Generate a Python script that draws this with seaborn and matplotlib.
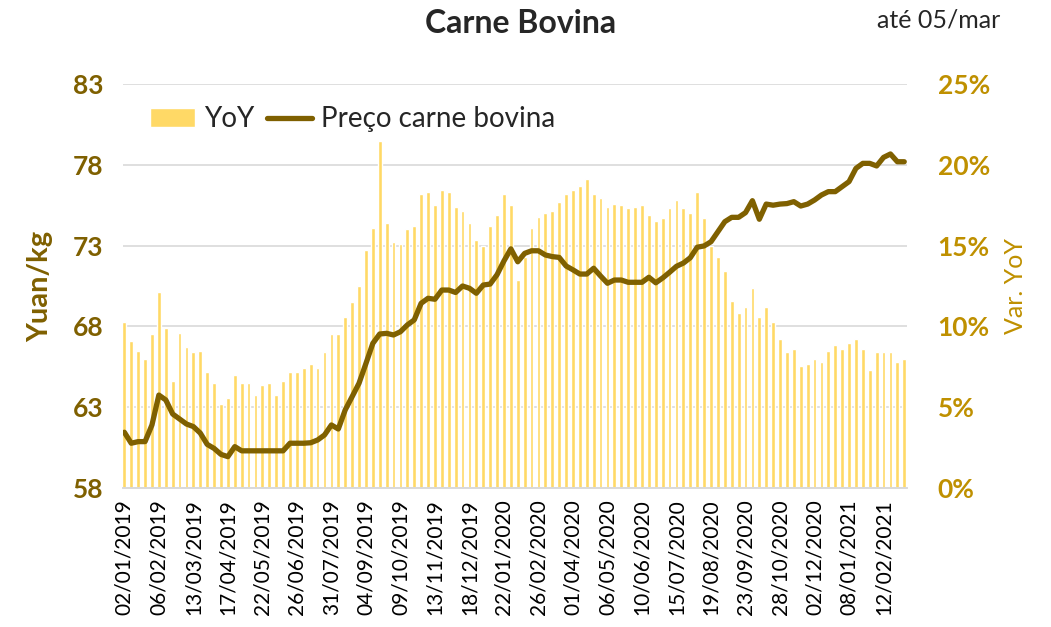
# Carne Bovina - preço semanal e variação YoY
import matplotlib
matplotlib.use("Agg")
import matplotlib.pyplot as plt
import seaborn as sns
import pandas as pd

# dados (semanas de 02/01/2019 até 05/03/2021)
yoy = [10.3, 9.1, 8.5, 8.0, 9.5, 12.1, 9.9, 6.6, 9.6, 8.7, 8.4, 8.5, 7.2, 6.5, 5.2, 5.6, 7.0, 6.5, 6.5,
       5.75, 6.4, 6.5, 5.75, 6.6, 7.2, 7.2, 7.45, 7.65, 7.45, 8.4, 9.55, 9.55, 10.6, 11.5, 12.5, 14.7, 16.1, 21.5,
       16.4, 15.25, 15.1, 16.0, 16.2, 18.2, 18.3, 17.5, 18.45, 18.3, 17.4, 17.15, 16.4, 15.35, 15.0, 16.2, 16.9, 18.2, 17.5, 12.9,
       14.3, 16.07, 16.8, 17.0, 17.15, 17.7, 18.2, 18.45, 18.7, 19.15, 18.2, 17.95, 17.4, 17.6, 17.5, 17.3, 17.4, 17.5, 16.9, 16.55,
       16.7, 17.3, 17.85, 17.3, 17.0, 18.3,
       16.7, 15.0, 14.3, 13.4, 11.6, 10.8, 11.2, 12.4, 10.6, 11.2, 10.3, 9.2, 8.4, 8.6, 7.55, 7.67, 8.0, 7.8, 8.5, 8.85,
       8.6, 9.0, 9.2, 8.6, 7.3, 8.4, 8.4, 8.4, 7.8, 8.0]

preco = [61.45, 60.77, 60.87, 60.87, 61.9, 63.75, 63.45, 62.58, 62.27, 61.96, 61.8, 61.4, 60.7, 60.45, 60.08, 59.94, 60.56, 60.3, 60.3,
         60.3, 60.3, 60.3, 60.3, 60.3, 60.77, 60.77, 60.77, 60.8, 60.97, 61.28, 61.9, 61.65, 62.83, 63.65, 64.48, 65.7, 66.95, 67.53,
         67.57, 67.47, 67.67, 68.09, 68.4, 69.43, 69.74, 69.68, 70.25, 70.25, 70.1, 70.5, 70.36, 70.05, 70.56, 70.62, 71.2, 72.05, 72.8, 72.0,
         72.52, 72.68, 72.68, 72.42, 72.32, 72.27, 71.74, 71.5, 71.24, 71.24, 71.6, 71.12, 70.67, 70.87, 70.87, 70.73, 70.73, 70.73, 71.04, 70.7,
         71.0, 71.35, 71.72, 71.92, 72.25, 72.9,
         72.98, 73.24, 73.86, 74.48, 74.75, 74.75, 75.04, 75.78, 74.63, 75.57, 75.5, 75.57, 75.6, 75.72, 75.45, 75.57, 75.82, 76.13, 76.34, 76.34,
         76.65, 76.96, 77.78, 78.09, 78.09, 77.93, 78.46, 78.67, 78.19, 78.19]

# rótulos do eixo x (a cada 5 semanas)
rotulos_x = ['02/01/2019', '06/02/2019', '13/03/2019', '17/04/2019', '22/05/2019', '26/06/2019',
             '31/07/2019', '04/09/2019', '09/10/2019', '13/11/2019', '18/12/2019', '22/01/2020',
             '26/02/2020', '01/04/2020', '06/05/2020', '10/06/2020', '15/07/2020', '19/08/2020',
             '23/09/2020', '28/10/2020', '02/12/2020', '08/01/2021', '12/02/2021']

df = pd.DataFrame({"semana": range(len(preco)), "preco": preco, "yoy": yoy})

cor_linha = "#7F6000"
cor_barra = "#FFD966"
cor_dir = "#BF9000"
fonte = "Lato"

sns.set_style("white")
plt.rcParams["font.family"] = [fonte, "DejaVu Sans"]

fig = plt.figure(figsize=(10.51, 6.27), dpi=100)
ax = fig.add_axes([0.117, 0.2217, 0.746, 0.6443])
ax2 = ax.twinx()

# barras YoY (eixo da direita)
sns.barplot(data=df, x="semana", y="yoy", ax=ax2, color=cor_barra, saturation=1,
            width=0.55, label="YoY")
ax2.set_ylim(0, 25)
ax2.set_yticks(range(0, 26, 5))
ax2.set_yticklabels([f"{v}%" for v in range(0, 26, 5)], fontsize=19, fontweight="bold", color=cor_dir)
ax2.set_ylabel("Var. YoY", fontsize=18, color=cor_dir, rotation=90, labelpad=10)
ax2.grid(axis="y", color="#d9d9d9", linewidth=1.2)
ax2.set_axisbelow(True)

# linha de preço (eixo da esquerda)
sns.lineplot(data=df, x="semana", y="preco", ax=ax, color=cor_linha, linewidth=3.8,
             label="Preço carne bovina")
ax.set_ylim(58, 83)
ax.set_yticks(range(58, 84, 5))
ax.set_yticklabels([str(v) for v in range(58, 84, 5)], fontsize=19, fontweight="bold", color=cor_linha)
ax.set_ylabel("Yuan/kg", fontsize=21, fontweight="bold", color=cor_linha, labelpad=14)
ax.grid(False)

ax.set_zorder(ax2.get_zorder() + 1)
ax.patch.set_visible(False)

ax.set_xlim(-0.2, 113.4)
ax2.set_xlim(-0.2, 113.4)
ax.set_xticks(range(0, len(preco), 5))
ax.set_xticklabels(rotulos_x, rotation=90, fontsize=15, color="black")
ax.set_xlabel("")
ax2.set_xlabel("")

for a in (ax, ax2):
    for s in ("top", "left", "right"):
        a.spines[s].set_visible(False)
    a.spines["bottom"].set_color("#d9d9d9")
    a.spines["bottom"].set_linewidth(1.2)
    a.tick_params(length=0)
ax.tick_params(axis="y", pad=14)
ax2.tick_params(axis="y", pad=22)
ax.tick_params(axis="x", pad=8)

# legenda
h2, l2 = ax2.get_legend_handles_labels()
h1, l1 = ax.get_legend_handles_labels()
if ax2.get_legend():
    ax2.get_legend().remove()
ax.legend(h2 + h1, l2 + l1, loc="upper left", bbox_to_anchor=(0.034, 0.945), ncol=2,
          frameon=False, fontsize=20, handlelength=1.65, columnspacing=0.45, handletextpad=0.3,
          borderaxespad=0, borderpad=0)

fig.text(0.495, 0.962, "Carne Bovina", ha="center", va="center", fontsize=23, fontweight="bold")
fig.text(0.952, 0.968, "até 05/mar", ha="right", va="center", fontsize=18)

fig.savefig("out.png", dpi=100)
